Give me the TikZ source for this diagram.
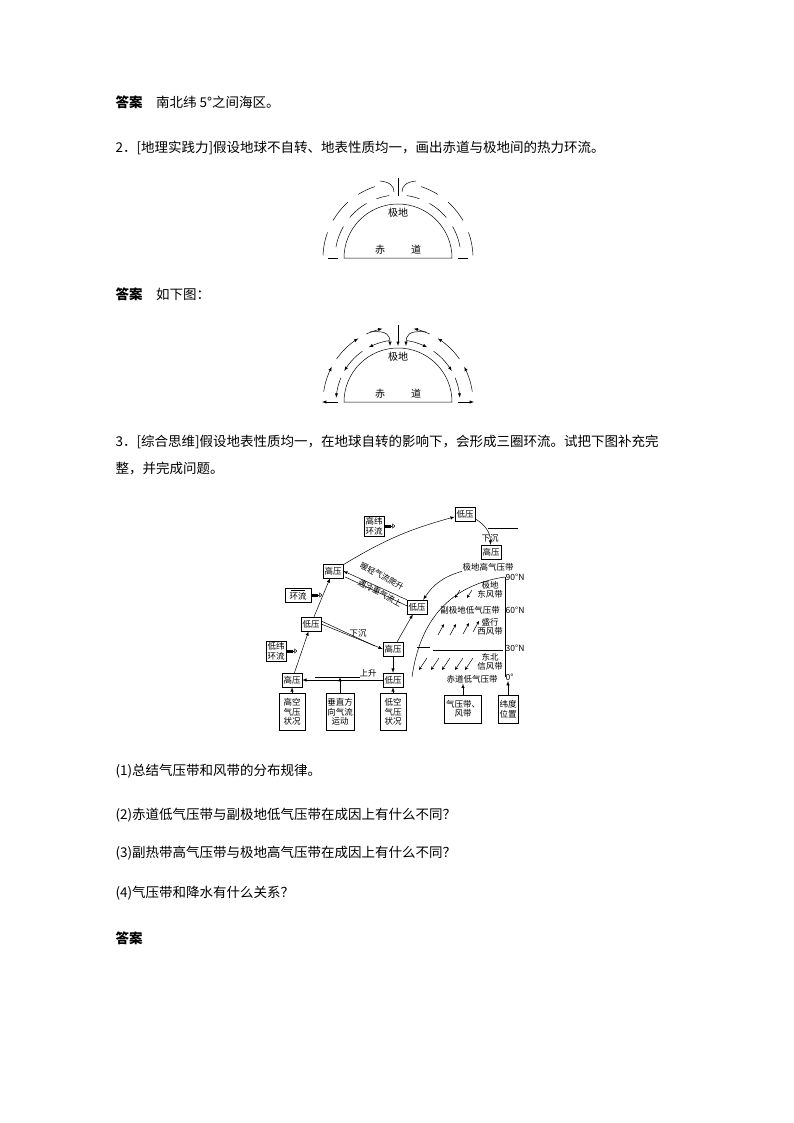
\documentclass[tikz,border=0pt]{standalone}
\usepackage{fontspec}
\setmainfont{Noto Sans CJK SC}
\usetikzlibrary{arrows,arrows.meta,positioning,calc}
\tikzset{
  para/.style={anchor=west,font=\fontsize{13.5}{15}\selectfont},
  lbl/.style={font=\fontsize{10}{11}\selectfont,inner sep=1pt},
  sm/.style={font=\fontsize{8.5}{9.5}\selectfont,inner sep=0.5pt,align=center},
  bx/.style={sm,draw,line width=0.5pt,inner sep=1.5pt,minimum height=14pt},
  tall/.style={bx,minimum width=26pt,minimum height=37pt},
  thin/.style={line width=0.5pt},
  ar/.style={thin,-latex},
  wind/.style={thin,-stealth},
  dbl/.style={thin,-{Triangle[open,length=3pt,width=5pt]}}
}
\begin{document}
\begin{tikzpicture}[x=1pt,y=-1pt]
\useasboundingbox (0,0) rectangle (794,1123);

% text
\node[para] (t1) at (112,102) {\textbf{答案}\quad 南北纬 5°之间海区。};
\node[para] (t2) at (112,148) {2．[地理实践力]假设地球不自转、地表性质均一，画出赤道与极地间的热力环流。};
\node[para] (t3) at (112,294) {\textbf{答案}\quad 如下图：};
\node[para] (t4) at (112,442) {3．[综合思维]假设地表性质均一，在地球自转的影响下，会形成三圈环流。试把下图补充完};
\node[para] (t5) at (112,468) {整，并完成问题。};
\node[para] (q1) at (112,771) {(1)总结气压带和风带的分布规律。};
\node[para] (q2) at (112,815) {(2)赤道低气压带与副极地低气压带在成因上有什么不同？};
\node[para] (q3) at (112,853) {(3)副热带高气压带与极地高气压带在成因上有什么不同？};
\node[para] (q4) at (112,893) {(4)气压带和降水有什么关系？};
\node[para] (a4) at (112,938) {\textbf{答案}};

% figure 1
\begin{scope}[shift={(398,258)}]
  \draw[thin] (-54,0) arc[start angle=180,end angle=360,radius=54] -- cycle;
  \node[lbl] (p1) at (0,-45) {极地};
  \node[lbl] (e1) at (-18,-8) {赤};
  \node[lbl] (d1) at (18,-8) {道};
  \foreach \a/\b in {178/160,150/132,122/108,72/58,48/30,20/2}
    \draw[thin] plot[domain=\a:\b,samples=8,smooth] ({75*cos(\x)},{-75*sin(\x)});
  \foreach \a/\b in {170/150,140/120,110/98,82/70,60/40,30/10}
    \draw[thin] plot[domain=\a:\b,samples=8,smooth] ({63*cos(\x)},{-63*sin(\x)});
  \draw[thin] (-18,-77) .. controls (-8,-76) and (-4,-72) .. (-4,-66);
  \draw[thin] (18,-77) .. controls (8,-76) and (4,-72) .. (4,-66);
  \draw[thin] (0,-80) -- (0,-62);
  \draw[thin] (-70,0) -- (-60,0) (60,0) -- (70,0);
\end{scope}

% figure 2
\begin{scope}[shift={(398,402)}]
  \draw[thin] (-54,0) arc[start angle=180,end angle=360,radius=54] -- cycle;
  \node[lbl] (p2) at (0,-45) {极地};
  \node[lbl] (e2) at (-18,-8) {赤};
  \node[lbl] (d2) at (18,-8) {道};
  \foreach \a/\b in {172/152,145/122,115/102,8/28,35/58,65/78}
    \draw[ar] plot[domain=\a:\b,samples=8,smooth] ({75*cos(\x)},{-75*sin(\x)});
  \foreach \a/\b in {98/118,125/150,157/176,82/62,55/30,23/4}
    \draw[ar] plot[domain=\a:\b,samples=8,smooth] ({62*cos(\x)},{-62*sin(\x)});
  \draw[ar] (-28,-70) .. controls (-10,-72) and (-8,-66) .. (-8,-56);
  \draw[ar] (28,-70) .. controls (10,-72) and (8,-66) .. (8,-56);
  \draw[ar] (0,-77) -- (0,-56);
  \draw[ar] (-60,0) -- (-76,0);
  \draw[ar] (60,0) -- (76,0);
\end{scope}

% figure 3
\node[bx] (lpT) at (465,514) {低压};
\node[bx,align=center] (gwhl) at (374,526) {高纬\\环流};
\node[bx] (hpPR) at (491,552) {高压};
\node[bx] (hpL) at (333,571) {高压};
\node[bx,align=center,minimum width=26pt] (blank) at (298,595) {\rule{14pt}{0.4pt}\\环流};
\node[bx] (lpL) at (311,624) {低压};
\node[bx] (lpM) at (417,607) {低压};
\node[bx] (hpM) at (393,649) {高压};
\node[bx,align=center] (dwhl) at (276,651) {低纬\\环流};
\node[bx] (hpB) at (292,680) {高压};
\node[bx] (lpB) at (393,680) {低压};
\node[tall] (gk) at (292,712) {高空\\气压\\状况};
\node[tall] (cz) at (340,712) {垂直方\\向气流\\运动};
\node[tall] (dk) at (393,712) {低空\\气压\\状况};
\node[bx,minimum width=36pt,minimum height=28pt] (qy) at (463,709) {气压带、\\风带};
\node[bx,minimum height=28pt] (wd) at (508,709) {纬度\\位置};

\node[sm] (xc1) at (490,538) {下沉};
\node[sm,fill=white] (jdg) at (488,567) {极地高气压带};
\node[sm] (jddf) at (490,590) {极地\\东风带};
\node[sm,fill=white] (fjd) at (470,610) {副极地低气压带};
\node[sm] (sxxf) at (490,627) {盛行\\西风带};
\node[sm] (dbxf) at (490,662) {东北\\信风带};
\node[sm,fill=white] (cdd) at (472,679) {赤道低气压带};
\node[sm] (xc2) at (358,633) {下沉};
\node[sm] (ss) at (368,673) {上升};
\node[sm,anchor=west] (n90) at (505,577) {90°N};
\node[sm,anchor=west] (n60) at (505,610) {60°N};
\node[sm,anchor=west] (n30) at (505,648) {30°N};
\node[sm,anchor=west] (n0) at (505,677) {0°};

% axis and front
\draw[thin] (n90.west) -- (n0.west);
\draw[thin] (412,677) .. controls (420,620) and (450,585) .. (n90.west);
\draw[thin] (433,650) -- (503,650);
\draw[thin] (417,647) -- (430,647);
\draw[thin] (488,528) -- (518,528);

% circulation
\draw[ar] (hpL) to[bend left=8] (lpT);
\draw[ar] (lpT) to[bend left=30] (hpPR);
\draw[ar] (hpB) -- (lpL);
\draw[ar] (lpL) -- (hpL);
\draw[ar] (lpM.north west) -- (hpL.east);
\draw[thin] ($(lpM.north west)+(0,6)$) -- ($(hpL.east)+(2,6)$);
\draw[ar] (lpL.east) -- (hpM.west);
\draw[thin] ($(lpL.east)+(0,-3)$) -- ($(hpM.west)+(-8,-3)$);
\draw[ar] (hpM) -- (lpM);
\draw[ar] (hpM) -- (lpB);
\draw[ar] (lpB) -- (hpB);
\draw[thin] (315,677) -- (360,677);
\draw[ar] (jdg) to[bend right=20] (lpM);
\node[sm,rotate=-28,font=\fontsize{8}{9}\selectfont] (nq) at (382,576) {暖轻气流爬升};
\node[sm,rotate=-28,font=\fontsize{8}{9}\selectfont] (lz) at (380,593) {遇冷重气流上};

% double arrows
\foreach \n in {gwhl,blank,dwhl}{
  \draw[thin] ($(\n.east)+(1,-1)$) -- ++(6,0) ($(\n.east)+(1,1)$) -- ++(6,0);
  \draw[dbl] ($(\n.east)+(1,0)$) -- ++(10,0);
}

% bottom links
\draw[ar] (gk) -- (hpB);
\draw[ar] (cz) -- (340,677);
\draw[ar] (dk) -- (lpB);
\draw[ar] (qy.north) -- (cdd.south -| qy.north);
\draw[ar] (wd.north) -- (wd.north |- n0.south);

% winds
\foreach \x/\y in {460/590,472/590} \draw[wind] (\x,\y) -- ++(-5,8);
\foreach \x/\y in {438/635,450/635,463/634,473/632} \draw[wind] (\x,\y) -- ++(6,-11);
\foreach \x/\y in {427/658,439/658,450/658,463/658,473/658} \draw[wind] (\x,\y) -- ++(-8,12);
\end{tikzpicture}
\end{document}
